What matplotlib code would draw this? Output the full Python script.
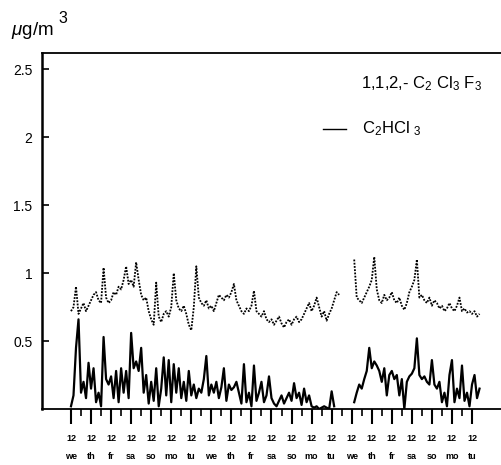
import numpy as np
import matplotlib.pyplot as plt

plt.rcParams['font.family'] = ['Liberation Sans', 'DejaVu Sans']
plt.rcParams['mathtext.fontset'] = 'custom'
plt.rcParams['mathtext.rm'] = 'Liberation Sans'
plt.rcParams['mathtext.it'] = 'Liberation Sans:italic'

#=========================================================================================
# data: 3-hourly values, one row per day starting at noon (we 12)

step_h = 3
days = ['we', 'th', 'fr', 'sa', 'so', 'mo', 'tu'] * 3

# 1,1,2,- C2Cl3F3 (dotted)
c2cl3f3 = [
    0.72, 0.75, 0.90, 0.70, 0.74, 0.78, 0.72, 0.76,
    0.80, 0.84, 0.86, 0.80, 0.78, 1.04, 0.82, 0.78,
    0.80, 0.86, 0.84, 0.90, 0.88, 0.95, 1.05, 0.92,
    0.95, 0.90, 1.08, 0.95, 0.84, 0.80, 0.82, 0.72,
    0.66, 0.62, 0.93, 0.68, 0.64, 0.70, 0.72, 0.68,
    0.75, 1.00, 0.80, 0.74, 0.72, 0.76, 0.70, 0.62,
    0.58, 0.75, 1.05, 0.82, 0.78, 0.76, 0.80, 0.74,
    0.76, 0.72, 0.78, 0.84, 0.82, 0.80, 0.84, 0.82,
    0.86, 0.92, 0.80, 0.76, 0.72, 0.70, 0.74, 0.72,
    0.76, 0.87, 0.72, 0.70, 0.68, 0.72, 0.66, 0.64,
    0.66, 0.62, 0.65, 0.68, 0.63, 0.60, 0.64, 0.66,
    0.62, 0.66, 0.68, 0.64, 0.66, 0.70, 0.74, 0.78,
    0.72, 0.76, 0.82, 0.75, 0.68, 0.72, 0.65, 0.70,
    0.74, 0.80, 0.86, 0.84, np.nan, np.nan, np.nan, np.nan,
    np.nan, 1.10, 0.82, 0.80, 0.78, 0.82, 0.86, 0.90,
    0.95, 1.12, 0.88, 0.80, 0.78, 0.84, 0.80, 0.82,
    0.86, 0.80, 0.78, 0.82, 0.76, 0.73, 0.78, 0.86,
    0.90, 0.95, 1.10, 0.82, 0.84, 0.80, 0.78, 0.82,
    0.76, 0.80, 0.78, 0.74, 0.76, 0.72, 0.74, 0.78,
    0.74, 0.72, 0.76, 0.82, 0.72, 0.74, 0.71, 0.72,
    0.70, 0.72, 0.68, 0.70,
]

# C2HCl3 (solid)
c2hcl3 = [
    0.02, 0.10, 0.45, 0.66, 0.12, 0.20, 0.08, 0.34,
    0.15, 0.30, 0.05, 0.12, 0.02, 0.53, 0.22, 0.18,
    0.24, 0.08, 0.28, 0.05, 0.30, 0.12, 0.28, 0.08,
    0.56, 0.30, 0.35, 0.28, 0.45, 0.12, 0.25, 0.04,
    0.20, 0.06, 0.30, 0.02, 0.15, 0.38, 0.10, 0.36,
    0.05, 0.33, 0.12, 0.30, 0.08, 0.20, 0.06, 0.28,
    0.10, 0.18, 0.08, 0.15, 0.12, 0.22, 0.39, 0.10,
    0.18, 0.12, 0.20, 0.08, 0.16, 0.30, 0.06, 0.18,
    0.14, 0.16, 0.20, 0.12, 0.04, 0.33, 0.05, 0.12,
    0.02, 0.32, 0.06, 0.12, 0.20, 0.05, 0.10, 0.24,
    0.08, 0.04, 0.02, 0.06, 0.10, 0.04, 0.08, 0.12,
    0.06, 0.19, 0.08, 0.12, 0.03, 0.15, 0.05, 0.10,
    0.02, 0.01, 0.02, 0.00, 0.01, 0.02, 0.01, 0.00,
    0.13, 0.02, np.nan, np.nan, np.nan, np.nan, np.nan, np.nan,
    np.nan, 0.05, 0.12, 0.18, 0.15, 0.22, 0.28, 0.45,
    0.30, 0.35, 0.32, 0.28, 0.20, 0.30, 0.10, 0.25,
    0.28, 0.22, 0.25, 0.10, 0.22, 0.00, 0.20, 0.24,
    0.26, 0.30, 0.52, 0.25, 0.22, 0.24, 0.20, 0.18,
    0.36, 0.18, 0.15, 0.20, 0.05, 0.12, 0.02, 0.25,
    0.36, 0.05, 0.15, 0.08, 0.32, 0.06, 0.12, 0.02,
    0.18, 0.25, 0.08, 0.15,
]

#=========================================================================================

t_upper = np.arange(len(c2cl3f3)) * step_h
t_lower = np.arange(len(c2hcl3)) * step_h

fig = plt.figure(figsize=(5.01, 4.65), dpi=100)
ax = fig.add_axes([42/501, 56/465, 459/501, 356/465])

ax.plot(t_upper, c2cl3f3, color='black', lw=1.3, ls=(0, (1, 0.8)))
ax.plot(t_lower, c2hcl3, color='black', lw=1.6)

ax.set_xlim(-34.7, 514.7)
ax.set_ylim(0, 2.62)

ax.set_yticks([0.5, 1, 1.5, 2, 2.5])
ax.set_yticklabels(['0.5', '1', '1.5', '2', '2.5'], fontsize=10)
ax.tick_params(axis='y', direction='in', length=5, width=1.2, pad=7)

ax.set_xticks(np.arange(0, 481, 24))
ax.set_xticklabels(['12\n' + d for d in days], fontsize=6.5, fontweight='bold')
ax.set_xticks(np.arange(12, 470, 24), minor=True)
ax.tick_params(axis='x', which='major', direction='out', length=11, width=1.5, pad=7)
ax.tick_params(axis='x', which='minor', direction='out', length=5, width=1.2)
for lab in ax.get_xticklabels():
    lab.set_linespacing(2.3)

ax.spines['right'].set_visible(False)
ax.spines['left'].set_linewidth(1.8)
ax.spines['top'].set_linewidth(1.3)
ax.spines['bottom'].set_linewidth(1.3)

fig.text(11/501, 1 - 35/465, r'$\mu$g/m', fontsize=13.5, ha='left', va='baseline')
fig.text(58/501, 1 - 23/465, '3', fontsize=11.5, ha='left', va='baseline')

fig.text(361/501, 1 - 84/465, r'1,1,2,- C$_2$ Cl$_3$ F$_3$', fontsize=12, ha='left',
         va='center')
ax.plot([323/501, 346/501], [1 - 129/465, 1 - 129/465], color='black', lw=1.0,
        transform=fig.transFigure)
fig.text(362/501, 1 - 129/465, r'C$_2$HCl $_3$', fontsize=12, ha='left', va='center')

plt.savefig('out.png', dpi=100)
